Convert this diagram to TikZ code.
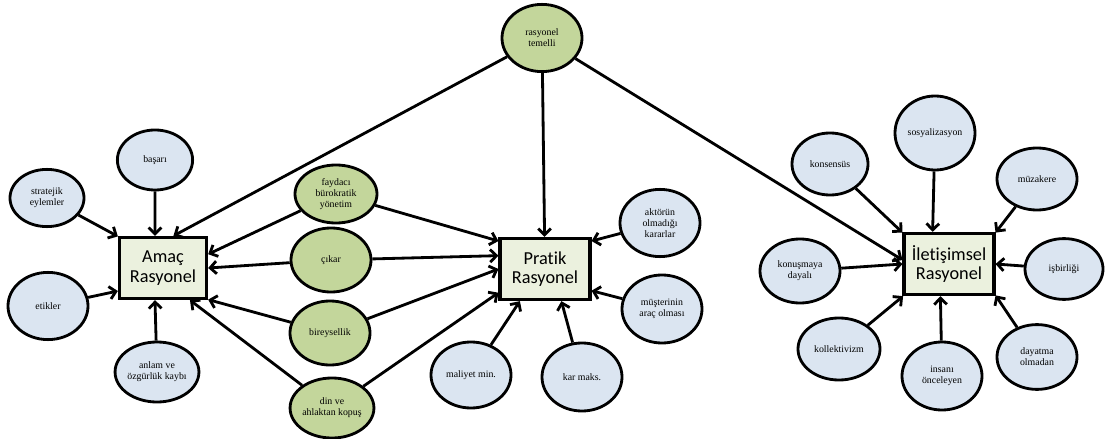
\documentclass[tikz,border=0pt]{standalone}
\usepackage{fontspec}
\setmainfont{Liberation Serif}
\newfontfamily\calfont[Ligatures=NoCommon]{Carlito}
\usepackage{xcolor}
\usepackage{tikz}
\usetikzlibrary{shapes.geometric, arrows.meta, positioning, calc}
\definecolor{bubblue}{HTML}{DBE5F1}
\definecolor{bubgreen}{HTML}{C3D69B}
\definecolor{boxfill}{HTML}{EBF1DE}
\tikzset{
    bubble/.style = {ellipse, draw=black, line width=2pt, inner sep=0pt,
        minimum width=2cm, minimum height=1.6cm, align=center,
        font=\fontsize{7}{8}\selectfont},
    blue_b/.style = {bubble, fill=bubblue},
    green_b/.style = {bubble, fill=bubgreen},
    ratbox/.style = {rectangle, draw=black, line width=2.2pt, fill=boxfill,
        minimum width=2.25cm, minimum height=1.53cm, align=center,
        inner sep=2pt, font=\calfont\fontsize{13}{14}\selectfont},
}

\begin{document}
\begin{tikzpicture}[x=0.025cm,y=-0.025cm,>={Straight Barb[length=4.5pt,width=9pt]},
    arr/.style={->,line width=2pt}]
    \useasboundingbox (0,0) rectangle (1105,439);
    % the three boxes
    \node (amac) [ratbox, minimum width=2.18cm] at (163,268) {Amaç\\Rasyonel};
    \node (pratik) [ratbox] at (545,269) {Pratik\\Rasyonel};
    \node (ilet) [ratbox] at (949,264) {İletişimsel\\Rasyonel};
    % shared (green)
    \node (temelli) [green_b, minimum height=1.68cm] at (542,38) {rasyonel\\temelli};
    \node (faydaci) [green_b, minimum width=2.05cm, minimum height=1.45cm] at (336,194) {faydacı\\bürokratik\\yönetim};
    \node (cikar) [green_b] at (331,260) {çıkar};
    \node (bireysel) [green_b] at (330,333) {bireysellik};
    \node (din) [green_b, minimum width=2.05cm, minimum height=1.5cm] at (332,408) {din ve\\ahlaktan kopuş};
    % amac side
    \node (basari) [blue_b, minimum width=1.88cm, minimum height=1.5cm] at (155,160) {başarı};
    \node (strateji) [blue_b, minimum width=1.85cm, minimum height=1.43cm] at (47,198) {stratejik\\eylemler};
    \node (etik) [blue_b, minimum height=1.68cm] at (48,306) {etikler};
    \node (anlam) [blue_b, minimum width=1.88cm, minimum height=1.5cm] at (157,372) {anlam ve\\özgürlük kaybı};
    % pratik side
    \node (maliyet) [blue_b, minimum height=1.65cm] at (471,375) {maliyet min.};
    \node (kar) [blue_b, minimum height=1.7cm] at (582,377) {kar maks.};
    \node (aktor) [blue_b, minimum height=1.68cm] at (660,223) {aktörün\\olmadığı\\kararlar};
    \node (musteri) [blue_b, minimum height=1.7cm] at (662,309) {müşterinin\\araç olması};
    % iletisimsel side
    \node (konsensus) [blue_b, minimum width=1.9cm, minimum height=1.55cm] at (830,164) {konsensüs};
    \node (sosyal) [blue_b, minimum height=1.85cm] at (935,133) {sosyalizasyon};
    \node (muzakere) [blue_b, minimum height=1.55cm] at (1037,179) {müzakere};
    \node (konusma) [blue_b] at (800,271) {konuşmaya\\dayalı};
    \node (isbirligi) [blue_b, minimum width=1.95cm, minimum height=1.52cm] at (1064,269) {işbirliği};
    \node (kollektif) [blue_b, minimum width=2.05cm, minimum height=1.55cm] at (839,349) {kollektivizm};
    \node (insani) [blue_b, minimum height=1.7cm] at (942,376) {insanı\\önceleyen};
    \node (dayatma) [blue_b, minimum height=1.62cm] at (1037,357) {dayatma\\olmadan};

    % into amac
    \draw[arr] (basari) -- (amac.104);
    \draw[arr] (strateji) -- (amac.145);
    \draw[arr] (etik) -- (amac.207);
    \draw[arr] (anlam) -- (amac.256);
    \draw[arr] (temelli) -- (amac.72);
    \draw[arr] (faydaci) -- (amac.17);
    \draw[arr] (cikar) -- (amac.east);
    \draw[arr] (bireysel) -- (amac.325);
    \draw[arr] (din) -- (amac.310);
    % into pratik
    \draw[arr] (temelli) -- (pratik);
    \draw[arr] (faydaci) -- (pratik.149);
    \draw[arr] (cikar) -- (pratik.164);
    \draw[arr] (bireysel) -- (pratik.west);
    \draw[arr] (din) -- (pratik.207);
    \draw[arr] (maliyet) -- (pratik.232);
    \draw[arr] (kar) -- (pratik.297);
    \draw[arr] (aktor) -- (pratik.31);
    \draw[arr] (musteri) -- (pratik.335);
    % into iletisimsel
    \draw[arr] (temelli) -- (ilet.175);
    \draw[arr] (konsensus) -- (ilet.146);
    \draw[arr] (sosyal) -- (ilet.117);
    \draw[arr] (muzakere) -- (ilet.34);
    \draw[arr] (konusma) -- (ilet.west);
    \draw[arr] (isbirligi) -- (ilet.east);
    \draw[arr] (kollektif) -- (ilet.215);
    \draw[arr] (insani) -- (ilet.255);
    \draw[arr] (dayatma) -- (ilet.326);
\end{tikzpicture}
\end{document}
